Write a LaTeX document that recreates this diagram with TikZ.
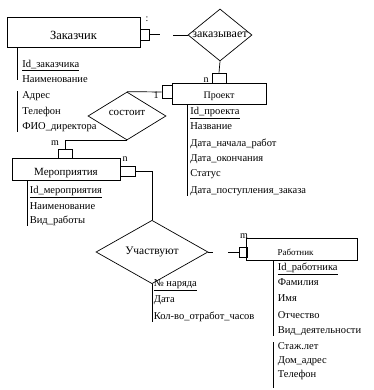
\documentclass[tikz,border=0pt]{standalone}
\usepackage{fontspec}
\setmainfont{Liberation Serif}
\usetikzlibrary{shapes.geometric}

\newcommand{\lowertext}[2]{\raisebox{-#1}[\height][\depth]{#2}}

\begin{document}
\begin{tikzpicture}[
    x=1pt, y=-1pt, line width=0.7pt,
    ent/.style  = {draw, rectangle, inner sep=0pt, font=\fontsize{10}{12}\selectfont},
    rel/.style  = {draw, diamond, inner sep=0pt, font=\fontsize{11}{13}\selectfont},
    stub/.style = {draw, rectangle, inner sep=0pt},
    attr/.style = {anchor=west, inner sep=0pt, text height=7pt, text depth=2pt,
                   font=\fontsize{10.5}{12}\selectfont},
    card/.style = {inner sep=0pt, font=\fontsize{10}{12}\selectfont},
]
\useasboundingbox (0,0) rectangle (373,390);

% Entities
\node[ent, minimum width=133pt, minimum height=30pt, font=\fontsize{12.5}{14}\selectfont] (zak) at (73.5,32) {\lowertext{3pt}{Заказчик}};
\node[ent, minimum width=94pt, minimum height=21pt] (proj) at (219,93.5) {\lowertext{3pt}{Проект}};
\node[ent, minimum width=108pt, minimum height=22pt, font=\fontsize{11}{13}\selectfont] (mer) at (66,169) {\lowertext{4.5pt}{Мероприятия}};
\node[ent, minimum width=111pt, minimum height=22pt, font=\fontsize{9}{11}\selectfont] (rab) at (301.5,249) {\lowertext{3pt}{Работник}\hspace*{12pt}};

% Relationships
\node[rel, minimum width=64pt, minimum height=52pt, aspect=1.23, font=\fontsize{12}{14}\selectfont] (zakaz) at (220,35) {заказывает};
\node[rel, minimum width=78pt, minimum height=48pt] (sost) at (127,116) {\lowertext{-3pt}{состоит}};
\node[rel, minimum width=112pt, minimum height=60pt, font=\fontsize{11.5}{13}\selectfont] (uch) at (152,252) {Участвуют};

% Connection stubs
\node[stub, minimum width=9pt,  minimum height=11pt] (s1) at (144.5,34.5) {};
\node[stub, minimum width=14pt, minimum height=10pt] (s2) at (219,78) {};
\node[stub, minimum width=10pt, minimum height=13pt] (s3) at (167,92) {};
\node[stub, minimum width=14pt, minimum height=9pt]  (s4) at (65,153.5) {};
\node[stub, minimum width=15pt, minimum height=10pt] (s5) at (127.5,171) {};
\node[stub, minimum width=8pt,  minimum height=10pt] (s6) at (243,252) {};

% Links
\coordinate (c1) at (160,34.5);
\coordinate (c2) at (173,35);
\coordinate (c3) at (213,252);
\coordinate (c4) at (228,252);
\draw (s1.east) -- (c1);
\draw (c2) -- (zakaz.west);
\draw (zakaz.south) -- (s2.north);
\draw (sost.north) -- (s3.west);
\draw (sost.south) -| (s4.north);
\draw (s5.east) -| (uch.north);
\draw (uch.east) -- (c3);
\draw (c4) -- (s6.west);

% Cardinalities
\node[card] (k1) at (147,19)  {:};
\node[card] (k2) at (206,80)  {n};
\node[card] (k3) at (156,95)  {1};
\node[card] (k4) at (55,143)  {m};
\node[card] (k5) at (125,159) {n};
\node[card] (k6) at (244,236) {m};

% Заказчик attributes
\node[attr] (za1) at (22,65)  {\underline{Id\_заказчика}};
\node[attr] (za2) at (22,80)  {Наименование};
\node[attr] (za3) at (22,96)  {Адрес};
\node[attr] (za4) at (22,112) {Телефон};
\node[attr] (za5) at (22,127) {ФИО\_директора};
\draw ([xshift=-5pt]za1.west |- zak.south) -- ([xshift=-5pt]za2.west);
\draw ([xshift=-5pt]za3.north west) -- ([xshift=-5pt]za5.south west);

% Проект attributes
\node[attr] (pa1) at (190,112) {\underline{Id\_проекта}};
\node[attr] (pa2) at (190,127) {Название};
\node[attr] (pa3) at (190,144) {Дата\_начала\_работ};
\node[attr] (pa4) at (190,159) {Дата\_окончания};
\node[attr] (pa5) at (190,174) {Статус};
\node[attr] (pa6) at (190,191) {Дата\_поступления\_заказа};
\draw ([xshift=-3pt]pa1.west |- proj.south) -- ([xshift=-3pt]pa6.south west);

% Мероприятия attributes
\node[attr] (ma1) at (29.5,191) {\underline{Id\_мероприятия}};
\node[attr] (ma2) at (29.5,207) {Наименование};
\node[attr] (ma3) at (29.5,221) {Вид\_работы};
\draw ([xshift=-2.6pt]ma1.west |- mer.south) -- ([xshift=-2.6pt]ma3.south west);

% Участвуют attributes
\node[attr] (ua1) at (153.5,284) {\underline{№ наряда}};
\node[attr] (ua2) at (153.5,300) {Дата};
\node[attr] (ua3) at (153.5,317) {Кол-во\_отработ\_часов};
\draw (uch.south) -- (uch.south |- ua3.south);

% Работник attributes
\node[attr] (ra1) at (277.5,268) {\underline{Id\_работника}};
\node[attr] (ra2) at (277.5,283) {Фамилия};
\node[attr] (ra3) at (277.5,299) {Имя};
\node[attr] (ra4) at (277.5,316) {Отчество};
\node[attr] (ra5) at (277.5,331) {Вид\_деятельности};
\node[attr] (ra6) at (277.5,347) {Стаж.лет};
\node[attr] (ra7) at (277.5,361) {Дом\_адрес};
\node[attr] (ra8) at (277.5,375) {Телефон};
\draw ([xshift=-4.4pt]ra1.west |- rab.south) -- ([xshift=-4.4pt]ra5.south west);
\draw ([xshift=-4.4pt]ra6.north west) -- ([xshift=-4.4pt,yshift=-8pt]ra8.south west);

\end{tikzpicture}
\end{document}
